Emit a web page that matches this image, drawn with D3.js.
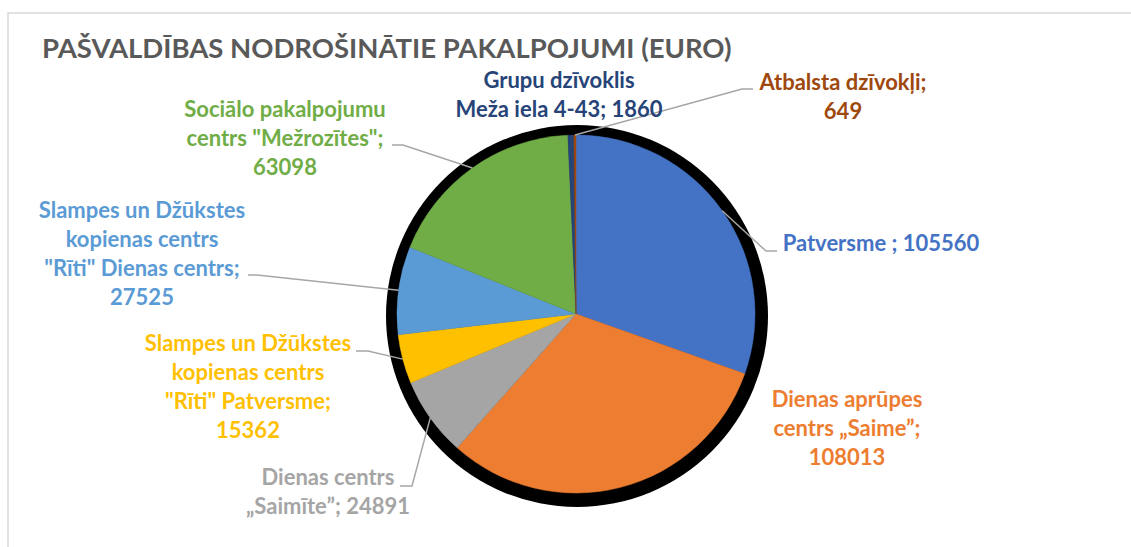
<!DOCTYPE html>
<html>
<head>
<meta charset="utf-8">
<script src="https://cdn.jsdelivr.net/npm/d3@7"></script>
<style>
  html, body { margin: 0; padding: 0; background: #fff; }
  svg { display: block; font-family: Lato, "Open Sans", sans-serif; }
</style>
</head>
<body>
<div id="chart"></div>
<script>
// ─── Data (EUR) ───
const categories = [
  "Patversme ",
  "Dienas aprūpes centrs „Saime”",
  "Dienas centrs „Saimīte”",
  "Slampes un Džūkstes kopienas centrs \"Rīti\" Patversme",
  "Slampes un Džūkstes kopienas centrs \"Rīti\" Dienas centrs",
  "Sociālo pakalpojumu centrs \"Mežrozītes\"",
  "Grupu dzīvoklis Meža iela 4-43",
  "Atbalsta dzīvokļi",
];
const values = [105560, 108013, 24891, 15362, 27525, 63098, 1860, 649];
const colors = ["#4472C4", "#ED7D31", "#A5A5A5", "#FFC000", "#5B9BD5", "#70AD47", "#264478", "#9E480E"];
// words per label line
const lineBreaks = [[3], [2, 2, 1], [2, 2], [3, 2, 2, 1], [3, 2, 3, 1], [2, 2, 1], [2, 4], [2, 1]];

// ─── Label layout (offsets from pie centre, hand placed like the original) ───
const labelAt = [[305, -63], [271, 93], [-248, 171], [-328, 37], [-434, -96], [-291, -197], [-17, -226], [267, -224]];
const leaders = [[190, -63, 201], null, [-164, 172, -176], [-208, 37, -220], [-319, -39, -328], [-173, -169, -184], null, [166, -225, 177]];

const W = 1131, H = 547;
const cx = 576, cy = 314, r = 179;
const lineH = 29;

const svg = d3.select("#chart").append("svg")
  .attr("width", W).attr("height", H);

// chart frame
svg.append("path")
  .attr("d", `M8,${H} L8,13 L${W},13`)
  .attr("fill", "none")
  .attr("stroke", "#D9D9D9")
  .attr("stroke-width", 1.5);

// title
svg.append("text")
  .attr("x", 42).attr("y", 58)
  .style("font-size", "27.5px")
  .style("font-weight", 700)
  .style("fill", "#595959")
  .text("PAŠVALDĪBAS NODROŠINĀTIE PAKALPOJUMI (EURO)");

const g = svg.append("g").attr("transform", `translate(${cx},${cy})`);

// shadow behind the pie
g.append("circle")
  .attr("cx", 1).attr("cy", 2)
  .attr("r", r + 12)
  .attr("fill", "#000");

const pie = d3.pie().sort(null).value((d) => d.value);
const arcs = pie(categories.map((c, i) => ({ name: c, value: values[i], i })));
const arc = d3.arc().innerRadius(0).outerRadius(r);
const edge = d3.arc().innerRadius(r).outerRadius(r);

g.selectAll("path.slice")
  .data(arcs)
  .join("path")
  .attr("class", "slice")
  .attr("d", arc)
  .attr("fill", (d) => colors[d.data.i])
  .attr("stroke", (d) => colors[d.data.i])
  .attr("stroke-width", 0.5);

// leader lines
arcs.forEach((d) => {
  const L = leaders[d.data.i];
  if (!L) return;
  const p = edge.centroid(d);
  g.append("polyline")
    .attr("points", [p, [L[0], L[1]], [L[2], L[1]]].map((q) => q.join(",")).join(" "))
    .attr("fill", "none")
    .attr("stroke", "#A6A6A6")
    .attr("stroke-width", 1.5);
});

// labels
const fmt = d3.format("d");
arcs.forEach((d) => {
  const i = d.data.i;
  const words = `${d.data.name}; ${fmt(d.data.value)}`.split(" ");
  const lines = [];
  let k = 0;
  lineBreaks[i].forEach((n) => {
    lines.push(words.slice(k, k + n).join(" "));
    k += n;
  });
  const t = g.append("text")
    .attr("text-anchor", "middle")
    .style("font-size", "22px")
    .style("font-weight", 700)
    .style("fill", colors[i]);
  lines.forEach((ln, j) => {
    t.append("tspan")
      .attr("x", labelAt[i][0])
      .attr("y", labelAt[i][1] + j * lineH)
      .text(ln);
  });
});
</script>
</body>
</html>
